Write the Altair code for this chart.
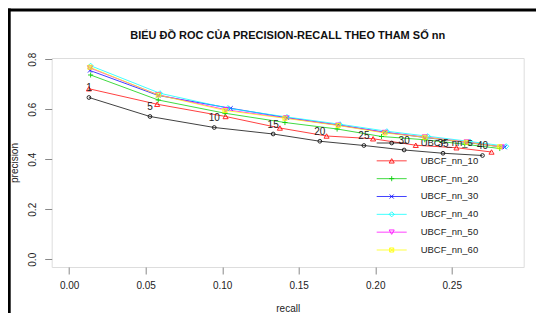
import altair as alt
import pandas as pd

# ---- data ----
chart_title = "BIỂU ĐỒ ROC CỦA PRECISION-RECALL THEO THAM SỐ nn"
series_names = ["UBCF_nn_5", "UBCF_nn_10", "UBCF_nn_20", "UBCF_nn_30",
                "UBCF_nn_40", "UBCF_nn_50", "UBCF_nn_60"]
series_colors = ["#000000", "#FF0000", "#00CD00", "#0000FF",
                 "#00FFFF", "#FF00FF", "#FFFF00"]
plus_path = "M-1,0L1,0M0,-1L0,1"
x_path = "M-0.8,-0.8L0.8,0.8M-0.8,0.8L0.8,-0.8"
sqx_path = "M-0.8,-0.8L0.8,-0.8L0.8,0.8L-0.8,0.8ZM-0.8,-0.8L0.8,0.8M-0.8,0.8L0.8,-0.8"
series_shapes = ["circle", "triangle-up", plus_path, x_path,
                 "diamond", "triangle-down", sqx_path]

n_labels = ["1", "5", "10", "15", "20", "25", "30", "35", "40"]

recall_nn5 = [0.0129, 0.0528, 0.0948, 0.1333, 0.1638, 0.1926, 0.2189, 0.2443, 0.2701]
prec_nn5 = [0.647, 0.571, 0.527, 0.501, 0.472, 0.455, 0.437, 0.424, 0.415]
recall_nn10 = [0.0129, 0.0575, 0.1022, 0.1377, 0.1682, 0.1986, 0.2265, 0.2531, 0.2760]
prec_nn10 = [0.682, 0.620, 0.571, 0.525, 0.493, 0.482, 0.456, 0.446, 0.429]
recall_nn20 = [0.0140, 0.0582, 0.1018, 0.1410, 0.1751, 0.2041, 0.2324, 0.2585, 0.2814]
prec_nn20 = [0.737, 0.637, 0.584, 0.547, 0.521, 0.491, 0.478, 0.460, 0.443]
recall_nn30 = [0.0136, 0.0582, 0.1055, 0.1423, 0.1758, 0.2063, 0.2324, 0.2598, 0.2846]
prec_nn30 = [0.755, 0.655, 0.604, 0.566, 0.537, 0.508, 0.487, 0.467, 0.448]
recall_nn40 = [0.0140, 0.0593, 0.1037, 0.1423, 0.1769, 0.2076, 0.2344, 0.2618, 0.2856]
prec_nn40 = [0.774, 0.664, 0.604, 0.569, 0.540, 0.512, 0.492, 0.471, 0.452]
recall_nn50 = [0.0136, 0.0582, 0.1024, 0.1416, 0.1758, 0.2063, 0.2324, 0.2598, 0.2827]
prec_nn50 = [0.765, 0.658, 0.598, 0.565, 0.536, 0.507, 0.489, 0.469, 0.449]
recall_nn60 = [0.0136, 0.0582, 0.1018, 0.1410, 0.1758, 0.2063, 0.2324, 0.2596, 0.2814]
prec_nn60 = [0.768, 0.657, 0.595, 0.564, 0.535, 0.505, 0.488, 0.468, 0.450]

x_ticks = [0.0, 0.05, 0.10, 0.15, 0.20, 0.25]
y_ticks = [0.0, 0.2, 0.4, 0.6, 0.8]

all_recall = [recall_nn5, recall_nn10, recall_nn20, recall_nn30,
              recall_nn40, recall_nn50, recall_nn60]
all_prec = [prec_nn5, prec_nn10, prec_nn20, prec_nn30,
            prec_nn40, prec_nn50, prec_nn60]

rows = []
for s_i, name in enumerate(series_names):
    for p_i, (r, p) in enumerate(zip(all_recall[s_i], all_prec[s_i])):
        rows.append({"series": name, "sidx": s_i, "pidx": p_i,
                     "recall": r, "precision": p})
df = pd.DataFrame(rows)

ann = pd.DataFrame({"recall": recall_nn5, "precision": prec_nn5, "label": n_labels})
leg = pd.DataFrame({"series": series_names, "row": list(range(len(series_names)))})
ttl = pd.DataFrame({"text": [chart_title]})

# R-style axis limits: [0, max] extended by 4%
xmax = max(max(r) for r in all_recall)
ymax = max(max(p) for p in all_prec)
xdom = [-0.04 * xmax, 1.04 * xmax]
ydom = [-0.04 * ymax, 1.04 * ymax]

FONT = "Liberation Sans"
W, H = 472, 209

xscale = alt.Scale(domain=xdom, nice=False, zero=False)
yscale = alt.Scale(domain=ydom, nice=False, zero=False)
color_scale = alt.Scale(domain=series_names, range=series_colors)
shape_scale = alt.Scale(domain=series_names, range=series_shapes)

x_enc = alt.X("recall:Q", scale=xscale,
              axis=alt.Axis(values=x_ticks, format=".2f", title="recall",
                            grid=False, domain=False, tickSize=7, tickColor="#888",
                            labelPadding=7, labelFontSize=10, labelFont=FONT,
                            labelColor="#222", titleFont=FONT, titleFontSize=10,
                            titleFontWeight="normal", titleColor="#222",
                            titleY=42, titleBaseline="middle"))
y_axis = alt.Axis(values=y_ticks, format=".1f", title="precision",
                  grid=False, domain=False, tickSize=7, tickColor="#888",
                  labelPadding=7, labelFontSize=10, labelFont=FONT,
                  labelColor="#222", labelAngle=-90, labelAlign="center",
                  labelBaseline="bottom", titleFont=FONT, titleFontSize=10,
                  titleFontWeight="normal", titleColor="#222",
                  titleX=-37, titleY=H / 2, titleAngle=-90,
                  titleAlign="center", titleBaseline="middle")

base = alt.Chart(df)
lines = base.mark_line(strokeWidth=1, opacity=0.75).encode(
    x=x_enc,
    y=alt.Y("precision:Q", scale=yscale, axis=y_axis),
    color=alt.Color("series:N", scale=color_scale, legend=None),
    detail="series:N",
    order="pidx:Q",
)
points = base.mark_point(filled=False, strokeWidth=1, opacity=0.85).encode(
    x=alt.X("recall:Q", scale=xscale),
    y=alt.Y("precision:Q", scale=yscale, axis=None),
    color=alt.Color("series:N", scale=color_scale, legend=None),
    shape=alt.Shape("series:N", scale=shape_scale, legend=None),
    size=alt.condition(alt.datum.sidx == 0, alt.value(14), alt.value(26)),
)
labels = alt.Chart(ann).mark_text(font=FONT, fontSize=10, color="#222", dy=-9).encode(
    x=alt.X("recall:Q", scale=xscale),
    y=alt.Y("precision:Q", scale=yscale, axis=None),
    text="label:N",
)

# legend (R style, no box) drawn by hand
leg_y = alt.Y("row:Q", scale=alt.Scale(domain=[0, len(series_names) - 1],
                                        range=[85, 192]), axis=None)
leg_lines = alt.Chart(leg).mark_rule(strokeWidth=1, opacity=0.75).encode(
    x=alt.value(325), x2=alt.value(355), y=leg_y,
    color=alt.Color("series:N", scale=color_scale, legend=None),
)
leg_points = alt.Chart(leg).mark_point(filled=False, strokeWidth=1, opacity=0.85).encode(
    x=alt.value(340), y=leg_y,
    color=alt.Color("series:N", scale=color_scale, legend=None),
    shape=alt.Shape("series:N", scale=shape_scale, legend=None),
    size=alt.condition(alt.datum.row == 0, alt.value(14), alt.value(26)),
)
leg_text = alt.Chart(leg).mark_text(font=FONT, fontSize=9.5, color="#222",
                                    align="left", baseline="middle").encode(
    x=alt.value(369), y=leg_y, text="series:N",
)

# chart title as a text mark above the plot
title_mark = alt.Chart(ttl).mark_text(font=FONT, fontSize=11, fontWeight="bold",
                                      color="#111", align="center",
                                      baseline="middle").encode(
    x=alt.value(W / 2), y=alt.value(-22), text="text:N")

# outer black frame (top and left edges)
frame_top = alt.Chart(ttl).mark_rule(color="black", strokeWidth=3).encode(
    x=alt.value(-44), x2=alt.value(500), y=alt.value(-48))
frame_left = alt.Chart(ttl).mark_rule(color="black", strokeWidth=3).encode(
    x=alt.value(-42.5), y=alt.value(-49.5), y2=alt.value(270))

chart = alt.layer(
    lines, points, labels, leg_lines, leg_points, leg_text,
    title_mark, frame_top, frame_left
).resolve_scale(y="independent").properties(
    width=W, height=H,
    autosize=alt.AutoSizeParams(type="none"),
    padding={"left": 43.7, "top": 50, "right": 12, "bottom": 46},
).configure_view(stroke="#888", strokeWidth=1.5).configure(background="white")

chart.save("out.html", embed_options={"renderer": "svg", "actions": False})
